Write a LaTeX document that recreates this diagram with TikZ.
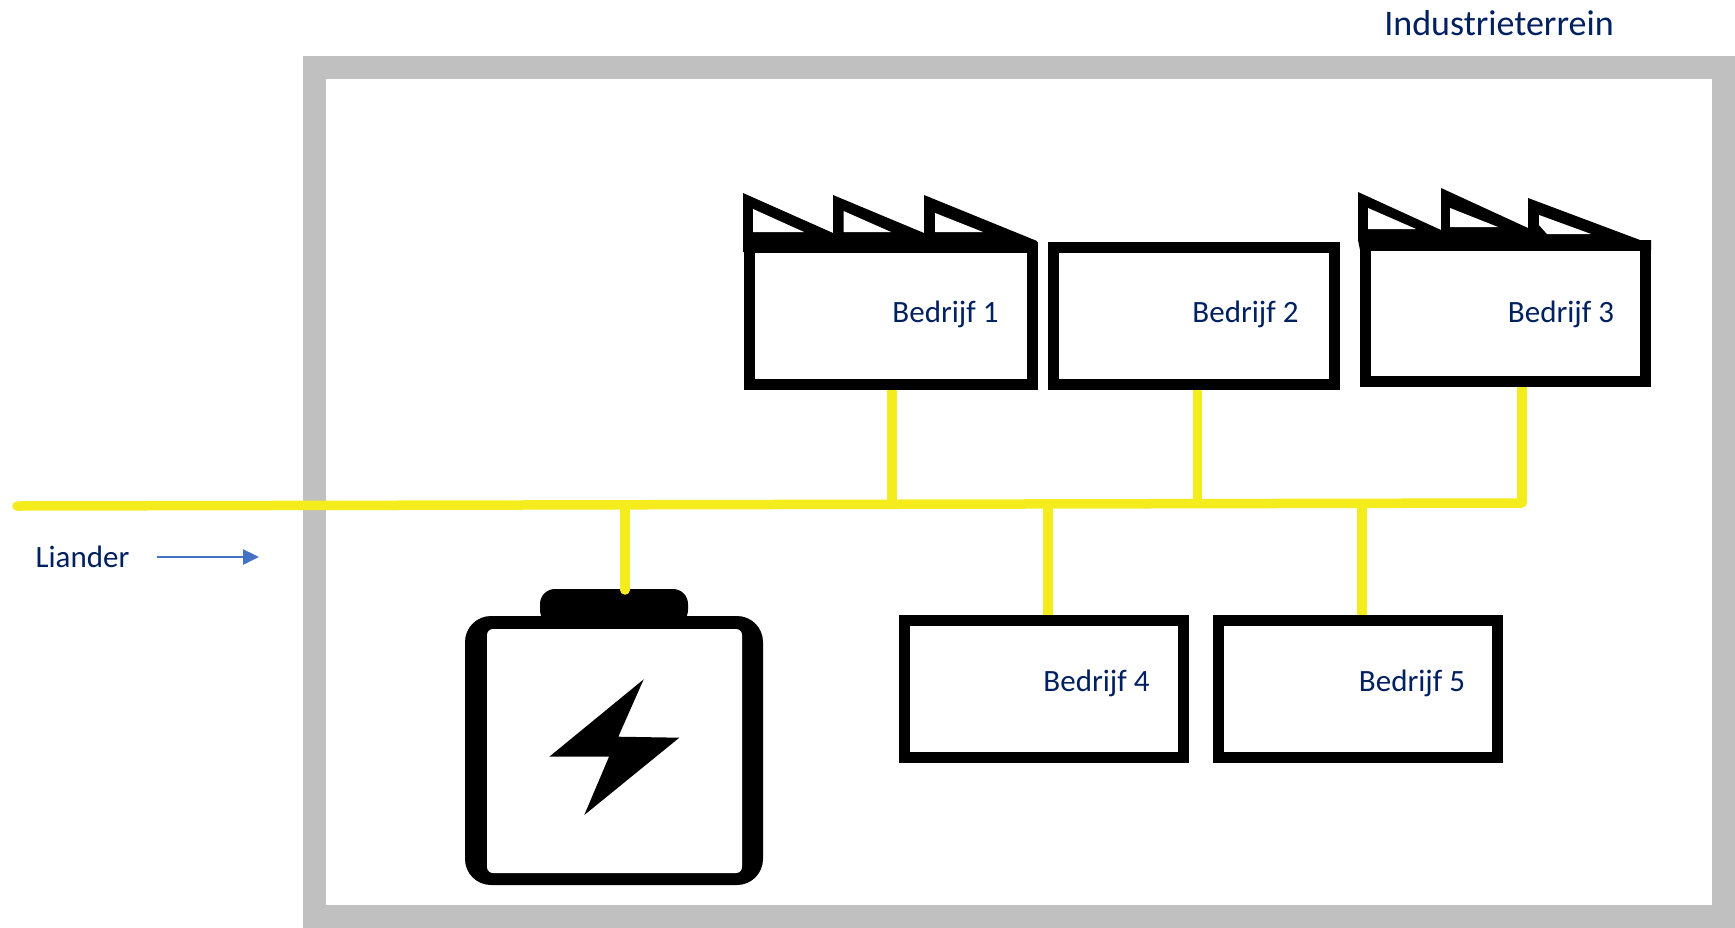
\documentclass[tikz,border=0pt]{standalone}
\usepackage{fontspec}
\setmainfont{Carlito}
\definecolor{navytext}{HTML}{002060}
\definecolor{framegrey}{HTML}{C0C0C0}
\definecolor{busyellow}{HTML}{F5EC1E}
\definecolor{arrowblue}{HTML}{4472C4}
\usetikzlibrary{arrows.meta}
\tikzset{
  x=1pt,y=-1pt,
  frameshape/.style={draw=framegrey,line width=23pt,minimum width=1409pt,minimum height=849pt,inner sep=0pt,anchor=center},
  company/.style={draw=black,fill=white,line width=11pt,inner sep=0pt,anchor=center},
  lab/.style={text=navytext,font=\fontsize{31}{34}\selectfont,inner sep=0pt,anchor=center},
  bigtext/.style={text=navytext,font=\fontsize{36}{40}\selectfont,inner sep=0pt,anchor=center},
  bus/.style={draw=busyellow,line width=9.5pt,line cap=round},
  branch/.style={draw=busyellow,line width=9.5pt},
  roof/.style={fill=black,draw=none},
  hole/.style={fill=white,draw=none}
}
\begin{document}
\begin{tikzpicture}
\useasboundingbox (0,0) rectangle (1735,927);
\fill[white] (0,0) rectangle (1735,927);
\node[frameshape] (frame) at (1019,492) {};
% factories
\node[company,minimum width=283pt,minimum height=137pt] (b1) at (890.5,315.5) {};
\node[company,minimum width=281pt,minimum height=137pt] (b2) at (1194,315.5) {};
\node[company,minimum width=280pt,minimum height=136pt] (b3) at (1505.5,313.5) {};
\node[company,minimum width=279pt,minimum height=137pt] (b4) at (1043.5,689) {};
\node[company,minimum width=279pt,minimum height=137pt] (b5) at (1358,689) {};
% roofs
\fill[roof] (743,193) -- (833,233) -- (833,195) -- (924,233) -- (924,195) -- (1037,241) -- (1037,252) -- (743,252) -- cycle;
\fill[hole] (753,209) -- (753,232) -- (804,232) -- cycle;
\fill[hole] (843.5,211) -- (843.5,232) -- (891,232) -- cycle;
\fill[hole] (935,213) -- (935,232) -- (983,232) -- cycle;
\fill[roof] (1358,192) -- (1441,230) -- (1441,188) -- (1528,228) -- (1528,198) -- (1640,240) -- (1651,240) -- (1651,250) -- (1360,250) -- (1358,240) -- cycle;
\fill[hole] (1368,208) -- (1368,229) -- (1416,229) -- cycle;
\fill[hole] (1450,208) -- (1450,227) -- (1498,227) -- cycle;
\fill[hole] (1539,215) -- (1539,225) -- (1547,234) -- (1591,234) -- cycle;
% battery
\fill[black,rounded corners=15pt] (540,625) -- (540,589) -- (688,589) -- (688,625) -- cycle;
\fill[black,rounded corners=26pt] (465,616) rectangle (763,885);
\fill[white,rounded corners=6pt] (487,629) rectangle (742,873);
\fill[black] (643.7,679.3) -- (618.3,736.7) -- (679.3,737.7) -- (584.3,815) -- (609,756.7) -- (549.3,756.7) -- cycle;
% bus junctions
\coordinate (west) at (17,506);
\coordinate (j0) at (625,505.5);
\coordinate (j1) at (892,505);
\coordinate (j4) at (1048,505);
\coordinate (j2) at (1197.5,504);
\coordinate (j5) at (1362,504);
\coordinate (j3) at (1522,503);
\coordinate (batt) at (625,590);
\draw[bus] (west) -- (j3);
\draw[branch] (j1) -- (b1.south -| j1);
\draw[branch] (j2) -- (b2.south -| j2);
\draw[branch] (j3) -- (b3.south -| j3);
\draw[branch] (j4) -- (b4.north -| j4);
\draw[branch] (j5) -- (b5.north -| j5);
\draw[bus] (j0) -- (batt);
% labels
\node[bigtext] (t0) at (1499,23) {Industrieterrein};
\node[lab] (t1) at (945.5,314) {Bedrijf 1};
\node[lab] (t2) at (1245.5,314) {Bedrijf 2};
\node[lab] (t3) at (1561,314) {Bedrijf 3};
\node[lab] (t4) at (1096.5,683) {Bedrijf 4};
\node[lab] (t5) at (1412,683) {Bedrijf 5};
\node[lab] (lia) at (82.5,557) {Liander};
\coordinate (arrs) at (157,557);
\coordinate (arre) at (259,557);
\draw[arrowblue,line width=2.5pt,-{Triangle[length=16pt,width=15pt]}] (arrs) -- (arre);
\end{tikzpicture}
\end{document}
